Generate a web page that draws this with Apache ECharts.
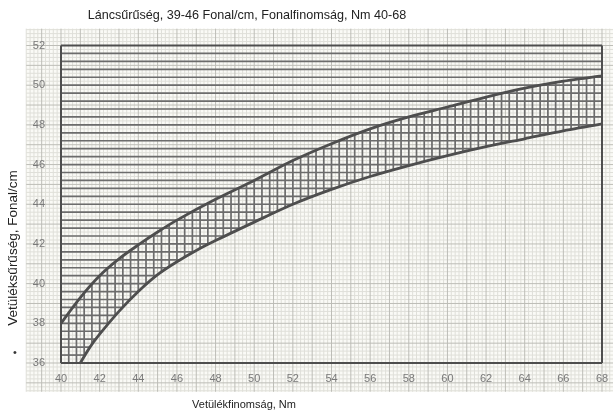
<!DOCTYPE html>
<html>
<head>
<meta charset="utf-8">
<script src="https://cdn.jsdelivr.net/npm/echarts@6/dist/echarts.min.js"></script>
<style>
  html, body { margin: 0; padding: 0; background: #ffffff; }
  #chart { width: 613px; height: 414px; }
</style>
</head>
<body>
<div id="chart"></div>
<script>
// Texts
const chartTitle = 'Láncsűrűség, 39-46 Fonal/cm, Fonalfinomság, Nm 40-68';
const xName = 'Vetülékfinomság, Nm';
const yName = 'Vetüléksűrűség, Fonal/cm';

// Tick labels
const xTicks = [40, 42, 44, 46, 48, 50, 52, 54, 56, 58, 60, 62, 64, 66, 68];
const yTicks = [36, 38, 40, 42, 44, 46, 48, 50, 52];

// Upper limit curve: weft density (Fonal/cm) vs weft fineness (Nm)
const upperNm      = [40, 41, 42, 43, 44, 45, 46, 48, 50, 52, 54, 56, 58, 60, 62, 64, 66, 68];
const upperDensity = [38.0, 39.3, 40.4, 41.25, 41.95, 42.6, 43.2, 44.25, 45.2, 46.2, 47.05, 47.8, 48.4, 48.9, 49.4, 49.85, 50.2, 50.47];

// Lower limit curve
const lowerNm      = [41, 41.5, 42, 43, 44, 45, 46, 47, 48, 50, 52, 54, 56, 58, 60, 62, 64, 66, 68];
const lowerDensity = [36.0, 36.8, 37.45, 38.6, 39.6, 40.45, 41.1, 41.67, 42.17, 43.1, 44.0, 44.75, 45.4, 45.95, 46.45, 46.9, 47.3, 47.7, 48.05];

// Ruling of the chart sheet (in axis units)
const hatchStep = 0.4;
const paperNm = [38.2, 68.6];
const paperDensity = [34.55, 52.85];

const X_MIN = 40, X_MAX = 68, Y_MIN = 36, Y_MAX = 52;

const INK = '#4e4e4e';
const HATCH = '#6c6c6c';
const PAPER_MAJOR = '#bdbdb7';
const PAPER_MINOR = '#dfdfd9';
const FONT = '"Liberation Sans", Arial, sans-serif';

function interp(xs, ys, x) {
  if (x <= xs[0]) return ys[0];
  if (x >= xs[xs.length - 1]) return ys[ys.length - 1];
  for (let i = 1; i < xs.length; i++) {
    if (x <= xs[i]) {
      const t = (x - xs[i - 1]) / (xs[i] - xs[i - 1]);
      return ys[i - 1] + t * (ys[i] - ys[i - 1]);
    }
  }
  return ys[ys.length - 1];
}

// x where an increasing curve reaches level y (null if never)
function inverse(xs, ys, y) {
  if (y <= ys[0]) return xs[0];
  for (let i = 1; i < ys.length; i++) {
    if (y <= ys[i]) {
      const t = (y - ys[i - 1]) / (ys[i] - ys[i - 1]);
      return xs[i - 1] + t * (xs[i] - xs[i - 1]);
    }
  }
  return null;
}

function seg(api, a, b, color, width) {
  const p = api.coord(a), q = api.coord(b);
  return {
    type: 'line',
    shape: { x1: p[0], y1: p[1], x2: q[0], y2: q[1] },
    style: { stroke: color, lineWidth: width, lineCap: 'butt' },
    silent: true
  };
}

// Millimetre-style graph paper behind everything
function renderPaper(params, api) {
  const minor = [], major = [];
  const tl = api.coord([paperNm[0], paperDensity[1]]);
  const br = api.coord([paperNm[1], paperDensity[0]]);
  const bg = {
    type: 'rect',
    shape: { x: tl[0], y: tl[1], width: br[0] - tl[0], height: br[1] - tl[1] },
    style: { fill: '#fafaf6' },
    silent: true
  };
  for (let i = Math.ceil(paperNm[0] * 5 - 1e-6); i <= Math.floor(paperNm[1] * 5 + 1e-6); i++) {
    const v = i / 5;
    const isMajor = i % 5 === 0;
    (isMajor ? major : minor).push(
      seg(api, [v, paperDensity[0]], [v, paperDensity[1]], isMajor ? PAPER_MAJOR : PAPER_MINOR, 1));
  }
  for (let i = Math.ceil(paperDensity[0] * 5 - 1e-6); i <= Math.floor(paperDensity[1] * 5 + 1e-6); i++) {
    const v = i / 5;
    const isMajor = i % 5 === 0;
    (isMajor ? major : minor).push(
      seg(api, [paperNm[0], v], [paperNm[1], v], isMajor ? PAPER_MAJOR : PAPER_MINOR, 1));
  }
  return { type: 'group', children: [bg].concat(minor, major) };
}

// Horizontal ruling above the lower curve, vertical ruling inside the band, and the frame
function renderHatch(params, api) {
  const kids = [];
  const nH = Math.round((Y_MAX - Y_MIN) / hatchStep);
  for (let k = 1; k < nH; k++) {
    const y = Y_MIN + k * hatchStep;
    let xEnd = inverse(lowerNm, lowerDensity, y);
    if (xEnd === null) xEnd = X_MAX;
    kids.push(seg(api, [X_MIN, y], [xEnd, y], HATCH, 1.7));
  }
  const nV = Math.round((X_MAX - X_MIN) / hatchStep);
  for (let k = 1; k < nV; k++) {
    const x = X_MIN + k * hatchStep;
    const yLow = x < lowerNm[0] ? Y_MIN : interp(lowerNm, lowerDensity, x);
    const yHigh = interp(upperNm, upperDensity, x);
    kids.push(seg(api, [x, yLow], [x, yHigh], HATCH, 1.7));
  }
  // frame
  kids.push(seg(api, [X_MIN, Y_MAX], [X_MAX, Y_MAX], INK, 2));
  kids.push(seg(api, [X_MIN, Y_MIN], [X_MAX, Y_MIN], INK, 2));
  kids.push(seg(api, [X_MIN, Y_MIN], [X_MIN, Y_MAX], INK, 2));
  kids.push(seg(api, [X_MAX, Y_MIN], [X_MAX, Y_MAX], INK, 2));
  return { type: 'group', children: kids };
}

const chart = echarts.init(document.getElementById('chart'), null, { renderer: 'canvas' });

const labelStyle = { color: '#7a7a7a', fontSize: 11, fontFamily: FONT };

chart.setOption({
  backgroundColor: '#ffffff',
  animation: false,
  grid: { left: 61, top: 45.5, width: 541, height: 317.5, containLabel: false },
  xAxis: {
    type: 'value', min: X_MIN, max: X_MAX, interval: 2,
    axisLine: { show: false }, axisTick: { show: false }, splitLine: { show: false },
    axisLabel: Object.assign({ margin: 10, customValues: xTicks }, labelStyle)
  },
  yAxis: {
    type: 'value', min: Y_MIN, max: Y_MAX, interval: 2,
    axisLine: { show: false }, axisTick: { show: false }, splitLine: { show: false },
    axisLabel: Object.assign({ margin: 16, padding: [0, 0, 5, 0], customValues: yTicks }, labelStyle)
  },
  graphic: [
    { type: 'text', x: 247, y: 16,
      style: { text: chartTitle, fill: '#222', align: 'center', verticalAlign: 'middle',
               font: '12.6px ' + FONT } },
    { type: 'text', x: 13, y: 248, rotation: Math.PI / 2,
      style: { text: yName, fill: '#222', align: 'center', verticalAlign: 'middle',
               font: '13.5px ' + FONT } },
    { type: 'text', x: 244, y: 405,
      style: { text: xName, fill: '#222', align: 'center', verticalAlign: 'middle',
               font: '11px ' + FONT } },
    { type: 'text', x: 15, y: 353,
      style: { text: '•', fill: '#333', align: 'center', verticalAlign: 'middle',
               font: '11px ' + FONT } }
  ],
  series: [
    { type: 'custom', name: 'paper', clip: false, z: 0, silent: true,
      data: [[X_MIN, Y_MIN]], renderItem: renderPaper },
    { type: 'custom', name: 'hatch', clip: false, z: 2, silent: true,
      data: [[X_MIN, Y_MIN]], renderItem: renderHatch },
    { type: 'line', name: 'upper', z: 3, smooth: 0.3, symbol: 'none',
      lineStyle: { color: INK, width: 2.8 },
      data: upperNm.map((x, i) => [x, upperDensity[i]]) },
    { type: 'line', name: 'lower', z: 3, smooth: 0.3, symbol: 'none',
      lineStyle: { color: INK, width: 2.8 },
      data: lowerNm.map((x, i) => [x, lowerDensity[i]]) }
  ]
});
</script>
</body>
</html>
